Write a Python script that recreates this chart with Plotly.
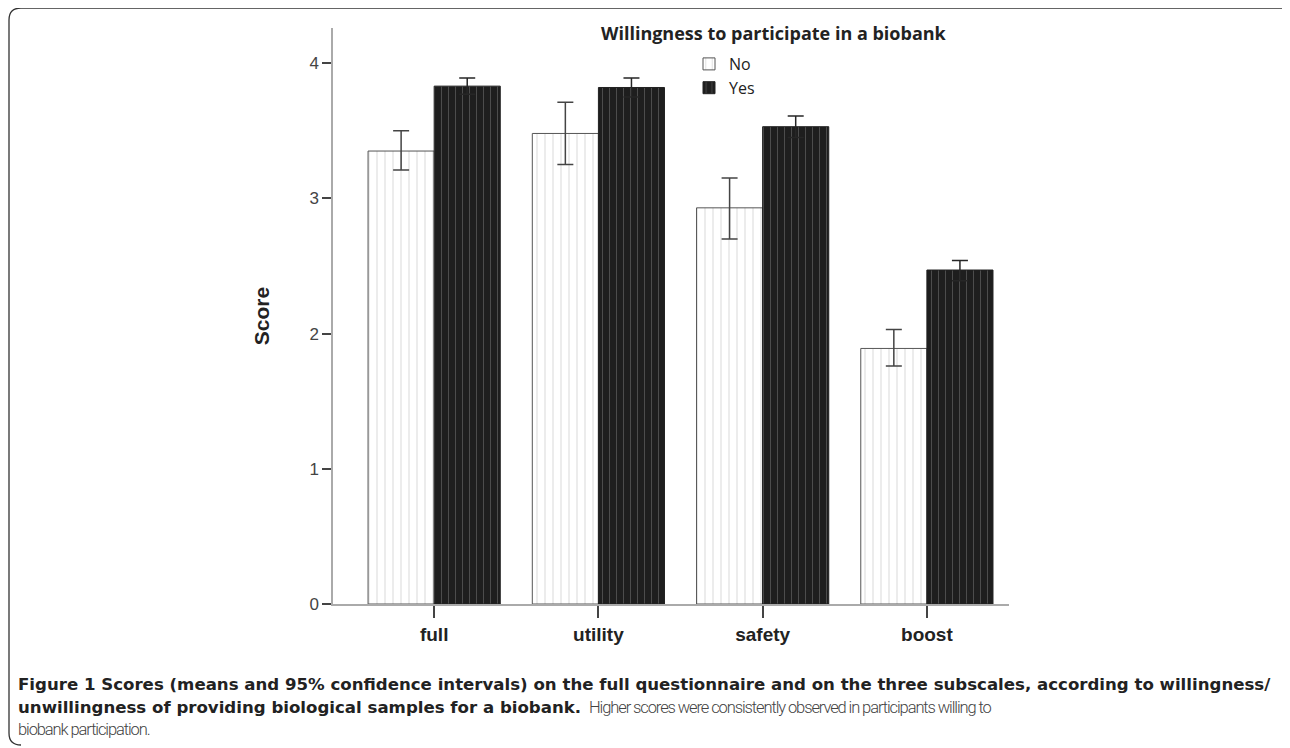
import plotly.graph_objects as go

categories = ["full", "utility", "safety", "boost"]
no_mean = [3.35, 3.48, 2.93, 1.89]
no_lo = [3.21, 3.25, 2.70, 1.76]
no_hi = [3.50, 3.71, 3.15, 2.03]
yes_mean = [3.83, 3.82, 3.53, 2.47]
yes_lo = [3.77, 3.75, 3.45, 2.39]
yes_hi = [3.89, 3.89, 3.61, 2.54]
y_ticks = [0, 1, 2, 3, 4]

W, H = 1290, 748
OFF = 8  # page body margin
L, T = 333 - OFF, 28 - OFF
B = H - (604 - OFF)
R = W - (1009 - OFF)
pw, ph = W - L - R, H - T - B


def px(x):
    return (x - OFF - L) / pw


def py(y):
    return (H - B - (y - OFF)) / ph


def err(mean, lo, hi):
    return [h - m for m, h in zip(mean, hi)], [m - l for m, l in zip(mean, lo)]


no_p, no_m = err(no_mean, no_lo, no_hi)
yes_p, yes_m = err(yes_mean, yes_lo, yes_hi)

fig = go.Figure()
fig.add_trace(go.Bar(
    x=categories, y=no_mean, name="No",
    marker=dict(color="white", line=dict(color="#555", width=1),
                pattern=dict(shape="|", fgcolor="#b0b0b0", bgcolor="white",
                             size=8, solidity=0.12)),
    error_y=dict(type="data", array=no_p, arrayminus=no_m, color="#444",
                 thickness=1.5, width=8),
))
fig.add_trace(go.Bar(
    x=categories, y=yes_mean, name="Yes",
    marker=dict(color="#1e1e1e", line=dict(color="#222", width=1),
                pattern=dict(shape="|", fgcolor="#7a7a7a", bgcolor="#1e1e1e",
                             size=7, solidity=0.15)),
    error_y=dict(type="data", array=yes_p, arrayminus=yes_m, color="#262626",
                 thickness=1.5, width=8),
))

# rounded frame
x0, y0, x1, y1, r = 9, 8, 1310, 745, 12
path = (f"M {px(x0)},{py(y1 - r)} L {px(x0)},{py(y0 + r)} "
        f"Q {px(x0)},{py(y0)} {px(x0 + r)},{py(y0)} "
        f"L {px(x1)},{py(y0)}")
fig.add_shape(type="path", path=path, xref="paper", yref="paper",
              line=dict(color="#333", width=1.3))
fig.add_shape(type="path",
              path=(f"M {px(x0)},{py(y1 - r)} Q {px(x0)},{py(y1)} {px(x0 + r)},{py(y1)}"),
              xref="paper", yref="paper", line=dict(color="#333", width=1.3))

fig.add_annotation(
    text="<b>Willingness to participate in a biobank</b>",
    x=px(774), y=py(33), xref="paper", yref="paper", showarrow=False,
    xanchor="center", yanchor="middle",
    font=dict(family="Open Sans", size=18, color="#222"))

BOLD_FONT = dict(family="DejaVu Sans", size=16.6, color="#222", weight="bold")
REG_FONT = dict(family="Roboto", size=16.5, color="#444", weight=300)
caption = [
    ("Figure 1 Scores (means and 95% confidence intervals) on the full questionnaire and on the three subscales, according to willingness/", 16, 684, BOLD_FONT),
    ("unwillingness of providing biological samples for a biobank.", 16, 707, BOLD_FONT),
    ("<span style=\"letter-spacing:-1.1px\">Higher scores were consistently observed in participants willing to</span>", 587, 707, REG_FONT),
    ("<span style=\"letter-spacing:-1.1px\">biobank participation.</span>", 16, 729, REG_FONT),
]
for txt, xx, yy, fnt in caption:
    fig.add_annotation(text=txt, x=px(xx), y=py(yy), xref="paper", yref="paper",
                       showarrow=False, xanchor="left", yanchor="middle", font=fnt)

fig.update_layout(
    width=W, height=H,
    margin=dict(l=L, r=R, t=T, b=B, autoexpand=False),
    paper_bgcolor="white", plot_bgcolor="white",
    barmode="group", bargap=0.195, bargroupgap=0,
    showlegend=True,
    legend=dict(x=px(689), y=py(47), xanchor="left", yanchor="top",
                font=dict(family="Open Sans", size=16, color="#222"),
                tracegroupgap=0, itemwidth=30, bgcolor="rgba(0,0,0,0)"),
    yaxis=dict(range=[0, 4.26], tickvals=y_ticks, ticktext=[str(v) for v in y_ticks],
               showgrid=False, zeroline=False, showline=True, linecolor="#aaa",
               linewidth=1.5, ticks="outside", ticklen=9, tickwidth=1.5,
               tickcolor="#444",
               tickfont=dict(family="Liberation Sans", size=17, color="#444"),
               title=dict(text="<b>Score</b>", standoff=34,
                          font=dict(family="Liberation Sans", size=21, color="#222"))),
    xaxis=dict(range=[-0.616, 3.5], showgrid=False, zeroline=False, showline=True,
               linecolor="#aaa", linewidth=1.5, ticks="outside", ticklen=12,
               tickwidth=1.5, tickcolor="#444",
               tickfont=dict(family="Liberation Sans", size=19, color="#222"),
               tickprefix="<b>", ticksuffix="</b>"),
)

fig.write_html("out.html")
